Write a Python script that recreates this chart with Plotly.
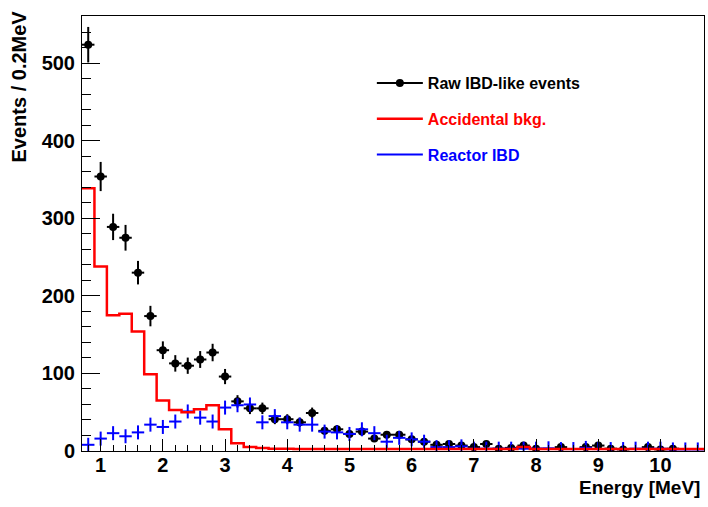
import math
import plotly.graph_objects as go

# ---------------- data ----------------
bin_centers = [0.8, 1.0, 1.2, 1.4, 1.6, 1.8, 2.0, 2.2, 2.4, 2.6,
               2.8, 3.0, 3.2, 3.4, 3.6, 3.8, 4.0, 4.2, 4.4, 4.6,
               4.8, 5.0, 5.2, 5.4, 5.6, 5.8, 6.0, 6.2, 6.4, 6.6,
               6.8, 7.0, 7.2, 7.4, 7.6, 7.8, 8.0, 8.2, 8.4, 8.6,
               8.8, 9.0, 9.2, 9.4, 9.6, 9.8, 10.0, 10.2, 10.4, 10.6]
bin_half_width = 0.1

raw_ibd = [524, 354, 289, 275, 230, 174, 130, 113, 110, 118,
           127, 96, 64, 55, 55, 41, 41, 37, 49, 26,
           28, 22, 25, 16, 21, 21, 15, 12, 8, 9,
           7, 5, 9, 3, 4, 7, 3, 0, 5, 0,
           5, 7, 3, 2, 0, 5, 2, 3, 0, 0]

accidental = [339, 238, 175, 177, 154, 99, 65, 53, 50, 54,
              59, 28, 10, 5, 4, 3, 3, 2.5, 2.5, 2.5,
              2.5, 2.5, 2.5, 2.5, 2.5, 2.5, 2.5, 2.5, 2.5, 2.5,
              2.5, 2.5, 2.5, 2.5, 2.5, 5, 2.5, 2.5, 2.5, 2.5,
              2.5, 2.5, 2.5, 2.5, 2.5, 2.5, 2.5, 2.5, 2.5, 2.5]

reactor_ibd = [8, 16, 23, 19, 24, 34, 31, 38, 51, 43,
               38, 56, 59, 60, 37, 45, 37, 34, 34, 25,
               24, 22, 28, 23, 12, 17, 15, 12, 5, 5,
               6, 3, 3, 3, 3, 3, 3, 3.5, 2.5, 2.5,
               4, 2.5, 2.5, 2.5, 3, 3, 3, 2, 2, 2]

x_tick_vals = [1, 2, 3, 4, 5, 6, 7, 8, 9, 10]
y_tick_vals = [0, 100, 200, 300, 400, 500]

legend_names = ["Raw IBD-like events", "Accidental bkg.", "Reactor IBD"]

# ---------------- derived ----------------
raw_y = [v if v > 0 else None for v in raw_ibd]
raw_err = [math.sqrt(v) if v > 0 else 0 for v in raw_ibd]
edges = [c - bin_half_width for c in bin_centers] + [bin_centers[-1] + bin_half_width]
acc_step = accidental + [accidental[-1]]

FONT = "Liberation Sans, Arial, Helvetica, sans-serif"
BLACK, RED, BLUE = "#000000", "#ff0000", "#0000ff"

fig = go.Figure()

# Raw IBD-like events (points with errors)
fig.add_trace(go.Scatter(
    x=bin_centers, y=raw_y, mode="markers", showlegend=False,
    marker=dict(color=BLACK, size=8, symbol="circle"),
    error_y=dict(type="data", array=raw_err, thickness=2, width=0, color=BLACK),
    error_x=dict(type="constant", value=bin_half_width, thickness=2, width=0, color=BLACK),
))

# Reactor IBD (crosses)
fig.add_trace(go.Scatter(
    x=bin_centers, y=reactor_ibd, mode="markers", showlegend=False,
    marker=dict(symbol="line-ns", size=10, color=BLUE, line=dict(color=BLUE, width=2)),
    error_x=dict(type="constant", value=bin_half_width, thickness=2, width=0, color=BLUE),
))

# Accidental background (step histogram)
fig.add_trace(go.Scatter(
    x=edges, y=acc_step, mode="lines", showlegend=False,
    line=dict(color=RED, width=2.5, shape="hv"),
))

# Legend entries
fig.add_trace(go.Scatter(
    x=[None], y=[None], mode="lines+markers", legendgroup="a",
    name="<span style='color:#000000'>" + legend_names[0] + "</span>",
    marker=dict(color=BLACK, size=8), line=dict(color=BLACK, width=2),
))
fig.add_trace(go.Scatter(
    x=[None], y=[None], mode="lines", legendgroup="b",
    name="<span style='color:#ff0000'>" + legend_names[1] + "</span>",
    line=dict(color=RED, width=2.5),
))
fig.add_trace(go.Scatter(
    x=[None], y=[None], mode="lines", legendgroup="c",
    name="<span style='color:#0000ff'>" + legend_names[2] + "</span>",
    line=dict(color=BLUE, width=2),
))

axis_common = dict(
    showgrid=False, zeroline=False, showline=True, linecolor=BLACK, linewidth=1,
    mirror=True, ticks="inside", tickcolor=BLACK, tickwidth=1,
    tickfont=dict(family=FONT, size=20, color=BLACK, weight="bold"),
)

fig.update_xaxes(
    range=[0.7, 10.7], tickvals=x_tick_vals, ticktext=[str(v) for v in x_tick_vals],
    ticklen=12, ticklabelstandoff=-4,
    minor=dict(dtick=0.2, tick0=0, ticks="inside", ticklen=6, tickcolor=BLACK, tickwidth=1),
    **axis_common,
)
fig.update_yaxes(
    range=[0, 561], tickvals=y_tick_vals, ticktext=[str(v) for v in y_tick_vals],
    ticklen=18, ticklabelstandoff=2,
    minor=dict(dtick=20, tick0=0, ticks="inside", ticklen=9, tickcolor=BLACK, tickwidth=1),
    **axis_common,
)

fig.update_layout(
    width=708, height=507,
    margin=dict(l=82, r=4, t=16, b=56),
    paper_bgcolor="white", plot_bgcolor="white",
    font=dict(family=FONT, color=BLACK),
    legend=dict(
        x=0.466, y=0.885, xanchor="left", yanchor="top",
        bgcolor="rgba(0,0,0,0)", borderwidth=0,
        font=dict(family=FONT, size=16, weight="bold"),
        itemwidth=46, tracegroupgap=12, traceorder="grouped",
    ),
    annotations=[
        dict(text="<b>Energy [MeV]</b>", xref="paper", yref="paper",
             x=0.9968, y=-0.083, xanchor="right", yanchor="middle", showarrow=False,
             font=dict(family=FONT, size=19, color=BLACK)),
        dict(text="<b>Events / 0.2MeV</b>", xref="paper", yref="paper",
             x=-0.1005, y=1.0184, xanchor="center", yanchor="top", showarrow=False,
             textangle=-90, font=dict(family=FONT, size=20, color=BLACK)),
    ],
)

fig.write_html("out.html", config={"displayModeBar": False},
               post_script="document.body.style.margin='0px';")
